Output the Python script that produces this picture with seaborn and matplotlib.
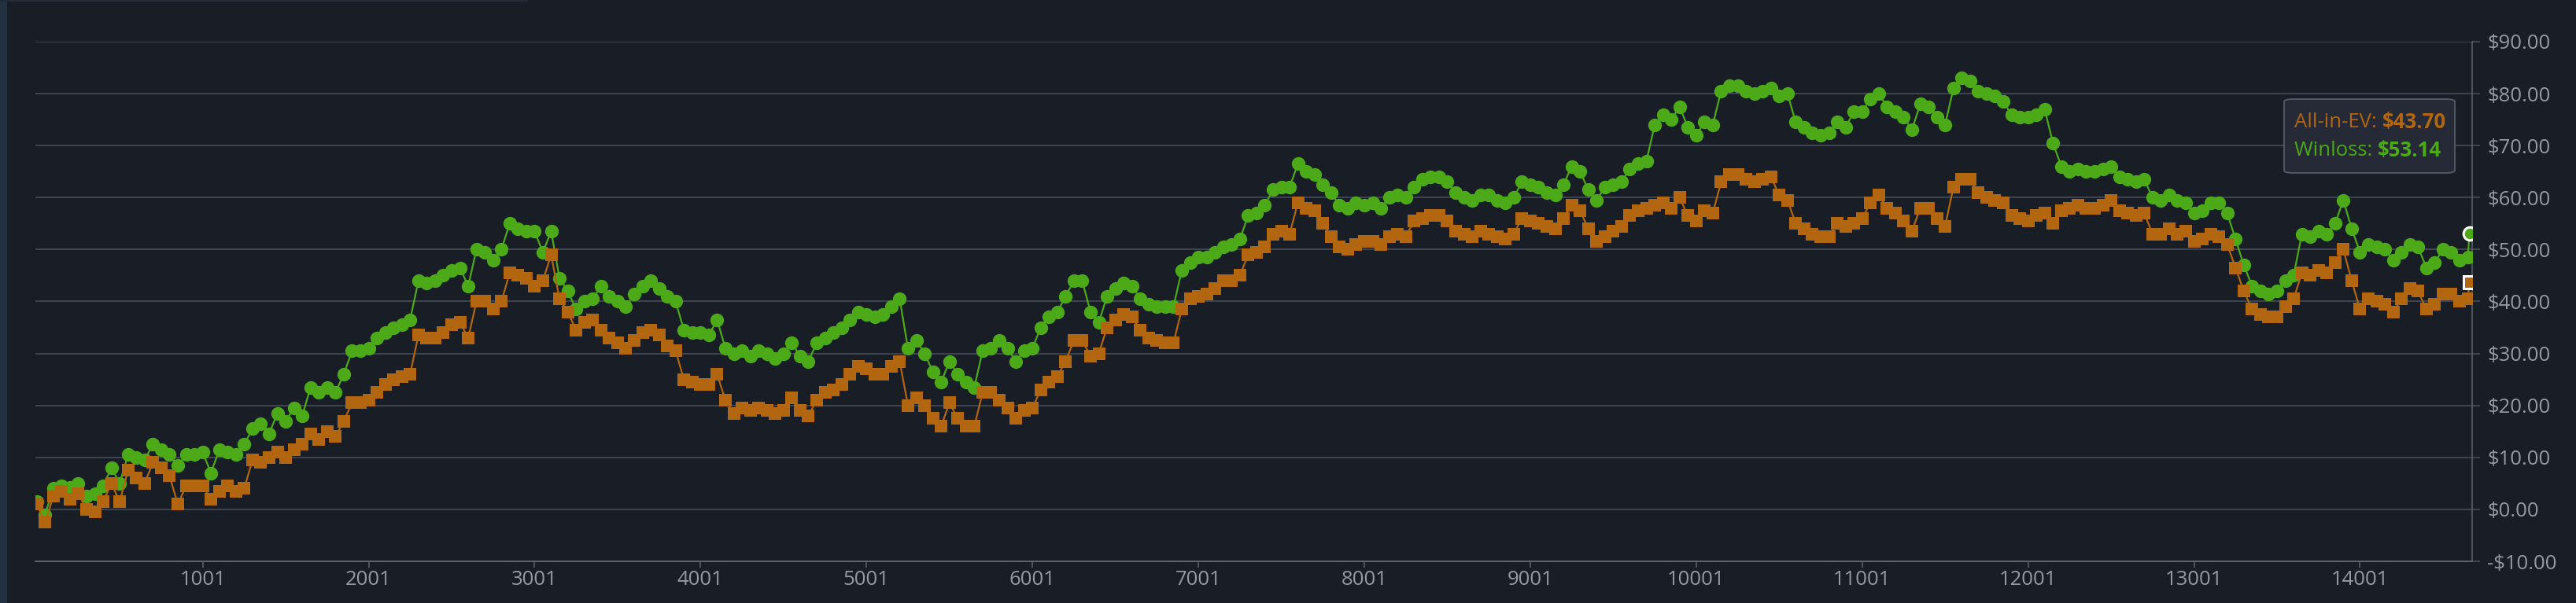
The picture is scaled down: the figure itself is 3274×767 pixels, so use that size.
import numpy as np
import pandas as pd
import matplotlib
matplotlib.use("Agg")
import matplotlib.pyplot as plt
import seaborn as sns
from matplotlib.ticker import FuncFormatter, FixedLocator
from matplotlib.patches import FancyBboxPatch, Rectangle

# ---------------- data ----------------
HAND_START = 1
HAND_STEP = 50

winloss = [
    1.5, -1.0, 4.0, 4.5, 4.2, 5.0, 2.5, 3.0, 4.5, 8.0,
    5.0, 10.5, 10.0, 9.5, 12.5, 11.5, 10.5, 8.5, 10.5, 10.5,
    11.0, 7.0, 11.5, 11.0, 10.5, 12.5, 15.5, 16.5, 14.5, 18.5,
    17.0, 19.5, 18.0, 23.5, 22.5, 23.5, 22.5, 26.0, 30.5, 30.5,
    31.0, 33.0, 34.0, 35.0, 35.5, 36.5, 44.0, 43.5, 44.0, 45.0,
    46.0,
    46.5, 43.0, 50.0, 49.5, 48.0, 50.0, 55.0, 54.0, 53.5, 53.5,
    49.5, 53.5, 44.5, 42.0, 38.5, 40.0, 40.5, 43.0, 41.0, 40.0,
    39.0, 41.5, 43.0, 44.0, 42.5, 41.0, 40.0, 34.5, 34.0, 34.0,
    33.5, 36.5, 31.0, 30.0, 30.5, 29.5, 30.5, 30.0, 29.0, 30.0,
    32.0, 29.5, 28.5, 32.0, 33.0, 34.0, 35.0, 36.5, 38.0,
    37.5, 37.0, 37.5, 39.0, 40.5, 31.0, 32.5, 30.0, 26.5, 24.5,
    28.5, 26.0, 24.5, 23.5, 30.5, 31.0, 32.5, 31.0, 28.5, 30.5,
    31.0, 35.0, 37.0, 38.0, 41.0, 44.0, 44.0, 38.0, 36.0, 41.0,
    42.5, 43.5, 43.0, 40.5, 39.5, 39.0, 39.0, 39.0, 46.0, 47.5,
    48.5, 48.5, 49.5, 50.5, 51.0, 52.0, 56.5, 57.0, 58.5,
    61.5, 62.0, 62.0, 66.5, 65.0, 64.5, 62.5, 61.0, 58.5, 58.0,
    59.0, 58.5, 59.0, 58.0, 60.0, 60.5, 60.0, 62.0, 63.5, 64.0,
    64.0, 63.0, 61.0, 60.0, 59.5, 60.5, 60.5, 59.5, 59.0, 60.0,
    63.0, 62.5, 62.0, 61.0, 60.5, 62.5, 66.0, 65.0, 61.5, 59.5,
    62.0, 62.5, 63.0, 65.5, 66.5, 67.0, 74.0, 76.0, 75.0, 77.5,
    73.5, 72.0, 74.5, 74.0, 80.5, 81.5, 81.5, 80.5, 80.0, 80.5,
    81.0, 79.5, 80.0, 74.5, 73.5, 72.5, 72.0, 72.5, 74.5, 73.5,
    76.5, 76.5, 79.0, 80.0, 77.5, 76.5, 75.5, 73.0, 78.0, 77.5,
    75.5, 74.0, 81.0, 83.0, 82.5, 80.5, 80.0, 79.5, 78.5, 76.0,
    75.5, 75.5, 76.0, 77.0, 70.5, 66.0, 65.0, 65.5, 65.0,
    65.0, 65.5, 66.0, 64.0, 63.5, 63.0, 63.5, 60.0, 59.5, 60.5,
    59.5, 59.0, 57.0, 57.5, 59.0, 59.0, 57.0, 52.0, 47.0, 43.0,
    42.0, 41.5, 42.0, 44.0, 45.0, 53.0, 52.5, 53.5, 53.0, 55.0,
    59.5, 54.0, 49.5, 51.0, 50.5, 50.0, 48.0, 49.5, 51.0, 50.5,
    46.5, 47.5, 50.0, 49.5, 48.0, 48.5,
]

allin_ev = [
    1.0, -2.5, 2.5, 3.5, 2.0, 3.0, 0.0, -0.5, 1.5, 5.0,
    1.5, 7.5, 6.0, 5.0, 9.0, 8.0, 6.5, 1.0, 4.5, 4.5,
    4.5, 2.0, 3.5, 4.5, 3.5, 4.0, 9.5, 9.0, 10.0, 11.0,
    10.0, 11.5, 12.5, 14.5, 13.5, 15.0, 14.0, 17.0, 20.5, 20.5,
    21.0, 22.5, 24.0, 25.0, 25.5, 26.0, 33.5, 33.0, 33.0, 34.0,
    35.5,
    36.0, 33.0, 40.0, 40.0, 38.5, 40.0, 45.5, 45.0, 44.5, 43.0,
    44.0, 49.0, 40.5, 38.0, 34.5, 36.0, 36.5, 34.5, 33.0, 32.0,
    31.0, 32.5, 34.0, 34.5, 33.5, 31.5, 30.5, 25.0, 24.5, 24.0,
    24.0, 26.0, 21.0, 18.5, 19.5, 19.0, 19.5, 19.0, 18.5, 19.0,
    21.5, 19.0, 18.0, 21.0, 22.5, 23.0, 24.0, 26.0, 27.5,
    27.0, 26.0, 26.0, 27.5, 28.5, 20.0, 21.5, 20.0, 17.5, 16.0,
    20.5, 17.5, 16.0, 16.0, 22.5, 22.5, 21.0, 19.5, 17.5, 19.0,
    19.5, 23.0, 24.5, 25.5, 28.5, 32.5, 32.5, 29.5, 30.0, 35.0,
    36.5, 37.5, 37.0, 34.5, 33.0, 32.5, 32.0, 32.0, 38.5, 40.5,
    41.0, 41.5, 42.5, 44.0, 44.0, 45.0, 49.0, 49.5, 50.5,
    53.0, 53.5, 53.0, 59.0, 58.0, 57.5, 55.0, 52.5, 50.5, 50.0,
    51.0, 51.5, 51.5, 51.0, 52.5, 53.0, 52.5, 55.5, 56.0, 56.5,
    56.5, 55.5, 53.5, 53.0, 52.5, 53.5, 53.0, 52.5, 52.0, 53.0,
    56.0, 55.5, 55.0, 54.5, 54.0, 56.0, 58.5, 57.5, 54.0, 51.5,
    52.5, 53.5, 54.5, 56.5, 57.5, 58.0, 58.5, 59.0, 58.0, 60.0,
    56.5, 55.5, 57.5, 57.0, 63.0, 64.5, 64.5, 63.5, 63.0, 63.5,
    64.0, 60.5, 59.5, 55.0, 54.0, 53.0, 52.5, 52.5, 55.0, 54.5,
    55.0, 56.0, 59.0, 60.5, 58.0, 57.0, 55.5, 53.5, 58.0, 58.0,
    56.0, 54.5, 62.0, 63.5, 63.5, 61.0, 60.0, 59.5, 59.0, 56.5,
    56.0, 55.5, 56.5, 57.0, 55.0, 57.5, 58.0, 58.5, 58.0,
    58.0, 58.5, 59.5, 57.5, 57.0, 56.5, 57.0, 53.0, 53.0, 54.0,
    53.0, 53.5, 51.5, 52.0, 53.0, 52.5, 51.0, 46.5, 42.0, 38.5,
    37.5, 37.0, 37.0, 39.0, 40.5, 45.5, 45.0, 46.0, 45.5, 47.5,
    50.0, 44.0, 38.5, 40.5, 40.0, 39.5, 38.0, 40.5, 42.5, 42.0,
    38.5, 39.5, 41.5, 41.5, 40.0, 40.5,
]

final_hand = 14661
final_winloss = 53.14
final_allin_ev = 43.70

x_tick_values = [1001, 2001, 3001, 4001, 5001, 6001, 7001,
                 8001, 9001, 10001, 11001, 12001, 13001, 14001]
y_tick_values = [-10, 0, 10, 20, 30, 40, 50, 60, 70, 80, 90]

# ---------------- styling ----------------
BG = "#181d26"
GRID = "#4a505c"
AXIS = "#5d6470"
TICKTXT = "#959aa2"
GREEN = "#4caa18"
ORANGE = "#b2660f"
STRIP = "#23303f"

n = min(len(winloss), len(allin_ev))
hands = HAND_START + HAND_STEP * np.arange(n)
hands = np.append(hands, final_hand)
wl = np.append(np.array(winloss[:n], dtype=float), final_winloss)
ev = np.append(np.array(allin_ev[:n], dtype=float), final_allin_ev)

df_wl = pd.DataFrame({"hand": hands, "value": wl})
df_ev = pd.DataFrame({"hand": hands, "value": ev})

sns.set_theme(style="dark")
plt.rcParams["font.family"] = ["Open Sans", "DejaVu Sans"]

W, H = 3274, 767
fig = plt.figure(figsize=(W / 100, H / 100), dpi=100, facecolor=BG)

# decorative page strips
fig.add_artist(Rectangle((0, 0), 9 / W, 1, transform=fig.transFigure,
                         facecolor=STRIP, edgecolor="none", zorder=0))
fig.add_artist(Rectangle((0, 1 - 2 / H), 671 / W, 2 / H, transform=fig.transFigure,
                         facecolor="#222b37", edgecolor="none", zorder=0))

left, right, top, bottom = 45, 3142, 53, 714
ax = fig.add_axes([left / W, 1 - bottom / H, (right - left) / W, (bottom - top) / H])
ax.set_facecolor(BG)
ax.set_axisbelow(True)

sns.lineplot(data=df_wl, x="hand", y="value", ax=ax, color=GREEN,
             marker="o", linewidth=1.6, estimator=None, sort=False)
line_wl = ax.lines[-1]
line_wl.set_markersize(12.5)
line_wl.set_markeredgewidth(0)
line_wl.set_markerfacecolor(GREEN)
line_wl.set_zorder(3)

sns.lineplot(data=df_ev, x="hand", y="value", ax=ax, color=ORANGE,
             marker="s", linewidth=1.6, estimator=None, sort=False)
line_ev = ax.lines[-1]
line_ev.set_markersize(11.5)
line_ev.set_markeredgewidth(0)
line_ev.set_markerfacecolor(ORANGE)
line_ev.set_zorder(4)

# highlighted last points
ax.plot([hands[-1]], [wl[-1]], marker="o", markersize=12.0, markerfacecolor=GREEN,
        markeredgecolor="white", markeredgewidth=2.2, linestyle="none", zorder=6)
ax.plot([hands[-1]], [ev[-1]], marker="s", markersize=11.0, markerfacecolor=ORANGE,
        markeredgecolor="white", markeredgewidth=2.2, linestyle="none", zorder=6)

ax.set_xlim(-7, 14677)
ax.set_ylim(-10, 90)
ax.set_xlabel("")
ax.set_ylabel("")

ax.yaxis.tick_right()
ax.yaxis.set_major_locator(FixedLocator(y_tick_values))
ax.yaxis.set_major_formatter(FuncFormatter(
    lambda v, p: ("-" if v < 0 else "") + "\\$" + f"{abs(v):.2f}"))
ax.xaxis.set_major_locator(FixedLocator(x_tick_values))
ax.xaxis.set_major_formatter(FuncFormatter(lambda v, p: f"{int(round(v))}"))

ax.grid(False)
ax.grid(True, axis="y", color=GRID, linewidth=1.1)
ax.tick_params(axis="y", which="major", right=True, left=False, length=7,
               width=1.1, color=GRID, pad=7, labelsize=18.5, labelcolor=TICKTXT)
ax.tick_params(axis="x", which="major", bottom=True, length=6, width=1.1,
               color=AXIS, pad=2, labelsize=18.5, labelcolor=TICKTXT)

for side in ["top", "left"]:
    ax.spines[side].set_visible(False)
ax.spines["right"].set_color(AXIS)
ax.spines["right"].set_linewidth(1.1)
ax.spines["bottom"].set_color(AXIS)
ax.spines["bottom"].set_linewidth(1.4)

# tooltip
bx0, bx1, by0, by1 = 2903, 3120, 126, 220
box = FancyBboxPatch((bx0 / W, 1 - by1 / H), (bx1 - bx0) / W, (by1 - by0) / H,
                     boxstyle="round,pad=0,rounding_size=0.004",
                     transform=fig.transFigure, facecolor="#252a36",
                     edgecolor="#555b68", linewidth=1.3, zorder=10)
fig.add_artist(box)
tx = 2916 / W
fig.canvas.draw()
renderer = fig.canvas.get_renderer()


def tooltip_line(y_px, label, value, color):
    t = fig.text(tx, 1 - y_px / H, label, color=color, fontsize=18.5,
                 va="center", ha="left", zorder=11)
    bb = t.get_window_extent(renderer=renderer)
    x_end = bb.x1 / W
    fig.text(x_end, 1 - y_px / H, value, color=color, fontsize=18.5,
             fontweight="bold", va="center", ha="left", zorder=11)


tooltip_line(156, "All-in-EV: ", "\\$43.70", ORANGE)
tooltip_line(192, "Winloss: ", "\\$53.14", GREEN)

fig.savefig("out.png", dpi=100, facecolor=BG)
